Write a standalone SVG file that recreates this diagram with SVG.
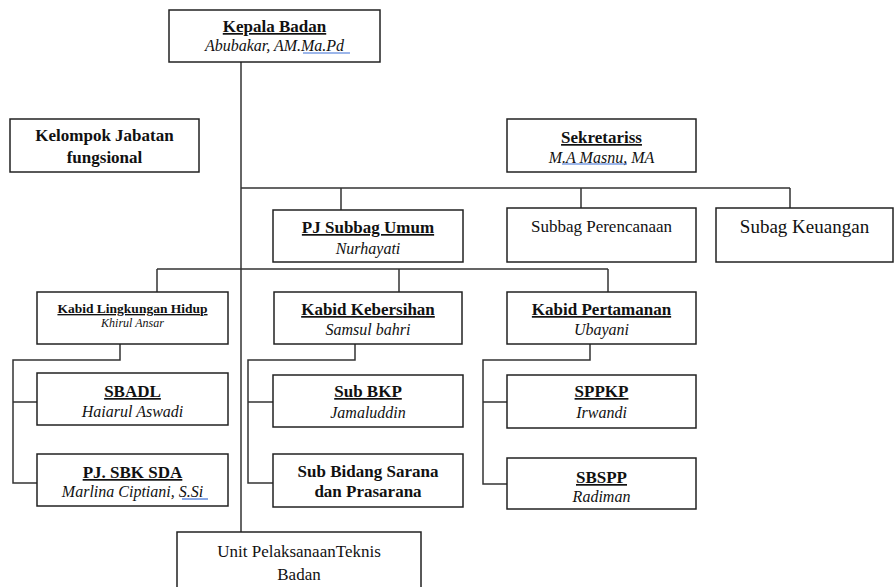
<svg xmlns="http://www.w3.org/2000/svg" width="896" height="587" viewBox="0 0 896 587">
<style>
.box{fill:#fff;stroke:#222;stroke-width:1.5}
.ln{fill:none;stroke:#333;stroke-width:1.5}
.t{font-weight:bold;font-size:17px;text-decoration:underline}
.tb{font-weight:bold;font-size:17px}
.n{font-style:italic;font-size:16px}
.r{font-size:17px}
.bl{stroke:#3b6fd6;stroke-width:1.2}
</style>
<rect width="896" height="587" fill="#fff"/>
<g id="connectors">
<path class="ln" d="M241 62V532"/>
<path class="ln" d="M241 188H790M341 188V210M581 188V208M790 188V208"/>
<path class="ln" d="M157 269H608M157 269V292M399 269V292M608 269V292"/>
<path class="ln" d="M120 344V360H13V483H37M13 402H37"/>
<path class="ln" d="M355 344V360H248V483H273M248 402H273"/>
<path class="ln" d="M590 344V360H483V484H507M483 402H507"/>
</g>
<g font-family="'Liberation Serif', 'Times New Roman', Times, Tinos, 'Noto Serif', 'DejaVu Serif', FreeSerif, serif" fill="#111" text-anchor="middle">
<g id="kepala">
<rect class="box" x="169" y="10" width="211" height="52"/>
<text class="t" x="274.5" y="32">Kepala Badan</text>
<text class="n" x="274.5" y="51">Abubakar, AM.Ma.Pd</text>
<line class="bl" x1="303" y1="53" x2="350" y2="53"/>
</g>
<g id="kelompok">
<rect class="box" x="10" y="119" width="189" height="53"/>
<text class="tb" x="104.5" y="141">Kelompok Jabatan</text>
<text class="tb" x="104.5" y="163">fungsional</text>
</g>
<g id="sekretaris">
<rect class="box" x="507" y="119" width="189" height="53"/>
<text class="t" x="601.5" y="143">Sekretariss</text>
<text class="n" x="601.5" y="163">M.A Masnu, MA</text>
<line class="bl" x1="562" y1="164" x2="627" y2="164"/>
</g>
<g id="subbag-umum">
<rect class="box" x="273" y="210" width="190" height="52"/>
<text class="t" x="368" y="233">PJ Subbag Umum</text>
<text class="n" x="368" y="254">Nurhayati</text>
</g>
<g id="subbag-perencanaan">
<rect class="box" x="507" y="208" width="189" height="54"/>
<text class="r" x="601.5" y="232">Subbag Perencanaan</text>
</g>
<g id="subag-keuangan">
<rect class="box" x="716" y="208" width="177" height="54"/>
<text x="804.5" y="233" font-size="19">Subag Keuangan</text>
</g>
<g id="kabid-lh">
<rect class="box" x="37" y="292" width="191" height="52"/>
<text x="132.5" y="313" font-size="13.5" font-weight="bold" text-decoration="underline">Kabid Lingkungan Hidup</text>
<text x="132.5" y="327" font-size="12" font-style="italic">Khirul Ansar</text>
</g>
<g id="kabid-kebersihan">
<rect class="box" x="274" y="292" width="188" height="52"/>
<text class="t" x="368" y="315">Kabid Kebersihan</text>
<text class="n" x="368" y="335">Samsul bahri</text>
</g>
<g id="kabid-pertamanan">
<rect class="box" x="507" y="292" width="189" height="52"/>
<text class="t" x="601.5" y="315">Kabid Pertamanan</text>
<text class="n" x="601.5" y="335">Ubayani</text>
</g>
<g id="sbadl">
<rect class="box" x="37" y="373" width="191" height="52"/>
<text class="t" x="132.5" y="397">SBADL</text>
<text class="n" x="132.5" y="417">Haiarul Aswadi</text>
</g>
<g id="pj-sbk-sda">
<rect class="box" x="37" y="454" width="191" height="52"/>
<text class="t" x="132.5" y="478">PJ. SBK SDA</text>
<text class="n" x="132.5" y="497">Marlina Ciptiani, S.Si</text>
<line class="bl" x1="182" y1="499" x2="208" y2="499"/>
</g>
<g id="sub-bkp">
<rect class="box" x="273" y="375" width="190" height="52"/>
<text class="t" x="368" y="397">Sub BKP</text>
<text class="n" x="368" y="418">Jamaluddin</text>
</g>
<g id="sub-bidang-sarana">
<rect class="box" x="273" y="454" width="190" height="53"/>
<text class="tb" x="368" y="477">Sub Bidang Sarana</text>
<text class="tb" x="368" y="497">dan Prasarana</text>
</g>
<g id="sppkp">
<rect class="box" x="507" y="375" width="189" height="53"/>
<text class="t" x="601.5" y="397">SPPKP</text>
<text class="n" x="601.5" y="418">Irwandi</text>
</g>
<g id="sbspp">
<rect class="box" x="507" y="458" width="189" height="51"/>
<text class="t" x="601.5" y="483">SBSPP</text>
<text class="n" x="601.5" y="502">Radiman</text>
</g>
<g id="upt">
<rect class="box" x="177" y="532" width="244" height="60"/>
<text class="r" x="299" y="557">Unit PelaksanaanTeknis</text>
<text class="r" x="299" y="580">Badan</text>
</g>
</g>
</svg>
